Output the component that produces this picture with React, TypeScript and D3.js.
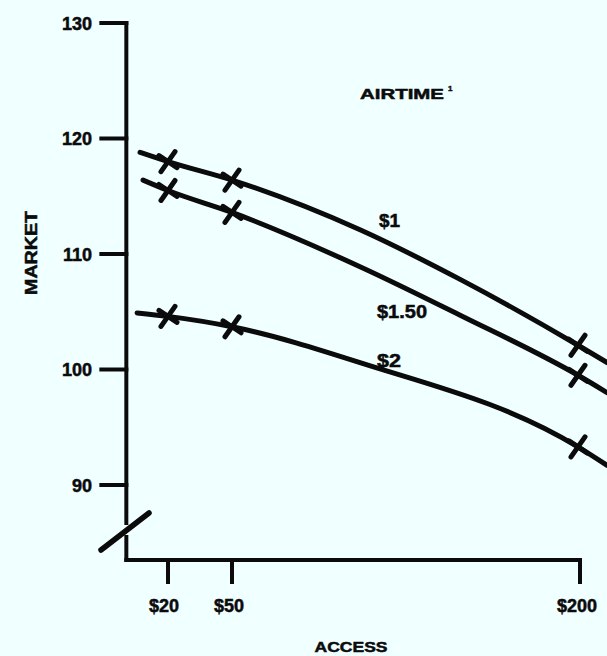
import React from 'react';
import * as d3 from 'd3';

// ---- data ----
const ACCESS_TICKS = [20, 50, 200];
const ACCESS_TICK_LABELS = ['$20', '$50', '$200'];
const MARKET_TICKS = [90, 100, 110, 120, 130];
const SERIES_NAMES = ['$1', '$1.50', '$2'];

const MARKER_ACCESS = [20, 50, 200];
const MARKET_AIRTIME_1 = [118.0, 116.4, 102.1];
const MARKET_AIRTIME_150 = [115.5, 113.6, 99.5];
const MARKET_AIRTIME_2 = [104.6, 103.7, 93.3];

// traced curve points (incl. the drawn extensions beyond the markers)
const TRACE_ACCESS_1 = [6.9, 20, 50, 105.5, 148.9, 200, 212.6];
const TRACE_MARKET_1 = [118.8, 118.0, 116.4, 112.1, 107.8, 102.1, 100.6];
const TRACE_ACCESS_150 = [8.3, 20, 50, 105.5, 148.9, 200, 212.6];
const TRACE_MARKET_150 = [116.4, 115.5, 113.6, 108.9, 104.7, 99.5, 98.0];
const TRACE_ACCESS_2 = [5.5, 20, 50, 105.5, 200, 212.6];
const TRACE_MARKET_2 = [104.9, 104.6, 103.7, 100.6, 93.3, 91.7];

const W = 607;
const H = 656;
const INK = '#0b0b0b';
const BG = '#f0ffff';
const FONT = '"Liberation Sans", Arial, Helvetica, sans-serif';

export default function App() {
  const x = d3.scaleLinear().domain([20, 50, 200]).range([168, 232, 578]);
  const y = d3.scaleLinear().domain([90, 130]).range([485, 23]);

  const line = d3
    .line<[number, number]>()
    .x((d) => x(d[0]))
    .y((d) => y(d[1]))
    .curve(d3.curveMonotoneX);

  const traces = [
    d3.zip(TRACE_ACCESS_1, TRACE_MARKET_1) as [number, number][],
    d3.zip(TRACE_ACCESS_150, TRACE_MARKET_150) as [number, number][],
    d3.zip(TRACE_ACCESS_2, TRACE_MARKET_2) as [number, number][],
  ];
  const markerSets = [MARKET_AIRTIME_1, MARKET_AIRTIME_150, MARKET_AIRTIME_2];

  const axisX = x(0) + 1;
  const axisBottom = 560;
  const axisRight = x(200) + 2;
  const breakTop = 523;
  const breakBottom = 537;

  const seriesLabelPos = [
    { x: 379, y: 227, len: 21 },
    { x: 377, y: 318, len: 50 },
    { x: 377, y: 367, len: 24 },
  ];
  const xLabelPos = [164, 229, 577];
  const textStyle = { fill: INK, stroke: INK, strokeWidth: 0.5, fontWeight: 'bold' as const };

  return (
    <svg
      width={W}
      height={H}
      style={{ position: 'absolute', left: 0, top: 0, background: BG }}
      fontFamily={FONT}
    >
      <rect width={W} height={H} fill={BG} />

      {/* y axis with break */}
      <g stroke={INK} strokeWidth={4} fill="none" strokeLinecap="square">
        <line x1={axisX} y1={y(130)} x2={axisX} y2={breakTop} />
        <line x1={axisX} y1={breakBottom} x2={axisX} y2={axisBottom} />
        <line x1={axisX} y1={axisBottom} x2={axisRight} y2={axisBottom} />
        {MARKET_TICKS.map((t) => (
          <line key={t} x1={axisX - 25} y1={y(t)} x2={axisX} y2={y(t)} />
        ))}
        {ACCESS_TICKS.map((t) => (
          <line
            key={t}
            x1={t === 200 ? axisRight : x(t)}
            y1={axisBottom}
            x2={t === 200 ? axisRight : x(t)}
            y2={axisBottom + 22}
          />
        ))}
      </g>
      {/* break slash */}
      <line x1={101} y1={550} x2={149} y2={513} stroke={INK} strokeWidth={5.5} strokeLinecap="round" />

      {/* y tick labels */}
      {MARKET_TICKS.map((t) => (
        <text key={t} x={92} y={y(t) + 6.5} textAnchor="end" fontSize={18} {...textStyle}>
          {t}
        </text>
      ))}

      {/* x tick labels */}
      {ACCESS_TICKS.map((t, i) => (
        <text key={t} x={xLabelPos[i]} y={612} textAnchor="middle" fontSize={18} {...textStyle}>
          {ACCESS_TICK_LABELS[i]}
        </text>
      ))}

      {/* axis titles */}
      <text
        x={351}
        y={652}
        textAnchor="middle"
        fontSize={15}
        textLength={73}
        lengthAdjust="spacingAndGlyphs"
        {...textStyle}
      >
        ACCESS
      </text>
      <text
        transform="translate(37,253) rotate(-90)"
        textAnchor="middle"
        fontSize={16}
        textLength={84}
        lengthAdjust="spacingAndGlyphs"
        {...textStyle}
      >
        MARKET
      </text>

      {/* legend title */}
      <text x={360} y={99} fontSize={15} textLength={84} lengthAdjust="spacingAndGlyphs" {...textStyle}>
        AIRTIME
      </text>
      <text x={448} y={91} fontSize={8} {...textStyle}>
        1
      </text>

      {/* curves */}
      {traces.map((pts, i) => (
        <path
          key={i}
          d={line(pts) || ''}
          fill="none"
          stroke={INK}
          strokeWidth={5}
          strokeLinecap="round"
          strokeLinejoin="round"
        />
      ))}

      {/* X markers */}
      {markerSets.map((vals, i) =>
        vals.map((v, j) => {
          const cx = x(MARKER_ACCESS[j]);
          const cy = y(v);
          return (
            <g key={`${i}-${j}`} stroke={INK} strokeWidth={5} strokeLinecap="round">
              <line x1={cx - 7} y1={cy + 10} x2={cx + 7} y2={cy - 10} />
              <line x1={cx - 9} y1={cy - 6} x2={cx + 9} y2={cy + 6} />
            </g>
          );
        })
      )}

      {/* series labels */}
      {SERIES_NAMES.map((s, i) => (
        <text
          key={s}
          x={seriesLabelPos[i].x}
          y={seriesLabelPos[i].y}
          fontSize={18}
          textLength={seriesLabelPos[i].len}
          lengthAdjust="spacingAndGlyphs"
          {...textStyle}
        >
          {s}
        </text>
      ))}
    </svg>
  );
}
